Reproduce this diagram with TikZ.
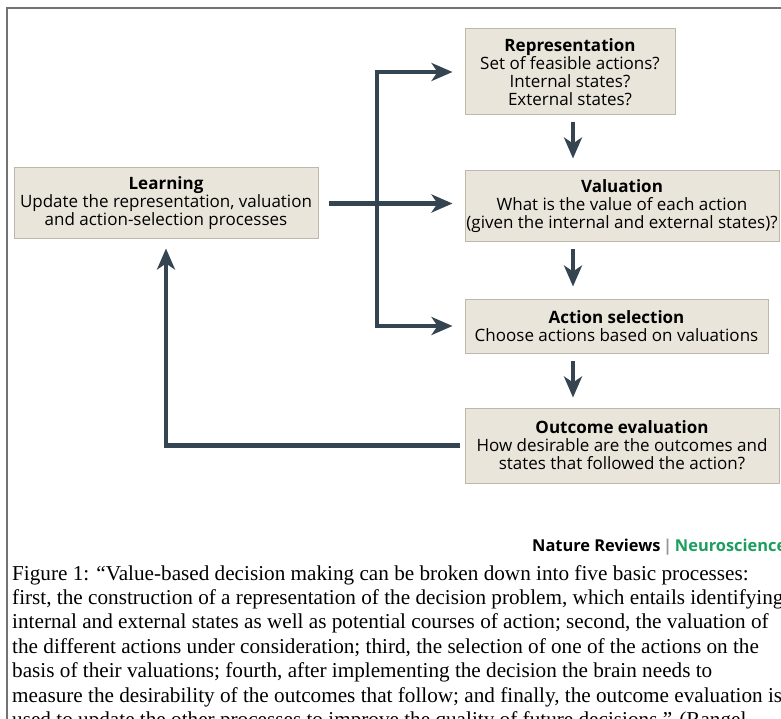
\documentclass[tikz,border=0pt]{standalone}
\usepackage{fontspec}
\setmainfont{Liberation Serif}
\setsansfont{Open Sans}
\usepackage{xcolor}
\usepackage{tikz}
\usetikzlibrary{arrows.meta, positioning, calc}
\definecolor{mydark}{RGB}{52,68,80}
\definecolor{mybeige}{RGB}{234,229,219}
\definecolor{myborder}{RGB}{190,184,172}
\definecolor{myframe}{RGB}{115,115,115}
\definecolor{mygreen}{RGB}{28,158,92}
\definecolor{mybar}{RGB}{150,150,150}
\tikzset{
  block/.style={rectangle, draw=myborder, fill=mybeige, align=center,
    font=\sffamily\fontsize{17}{18}\selectfont, inner sep=0pt, line width=1pt},
  arrow/.style={-{Stealth[length=21pt, width=18pt, inset=6pt]}, line width=4.5pt, color=mydark},
  line/.style={line width=4.5pt, color=mydark}
}

\begin{document}
\begin{tikzpicture}[x=1pt, y=-1pt]
  \useasboundingbox (0,0) rectangle (781,719);
  \clip (0,0) rectangle (781,719);
  \draw [myframe, line width=2pt] (7,740) -- (7,8) -- (790,8);

  \node [block, minimum width=304pt, minimum height=71pt] (learn) at (166,203.5)
    {\textbf{Learning}\\Update the representation, valuation\\and action-selection processes};
  \node [block, minimum width=210pt, minimum height=86pt] (repr) at (570,72)
    {\textbf{Representation}\\Set of feasible actions?\\Internal states?\\External states?};
  \node [block, minimum width=314pt, minimum height=71pt] (valu) at (622,206.5)
    {\textbf{Valuation}\\What is the value of each action\\(given the internal and external states)?};
  \node [block, minimum width=303pt, minimum height=54pt] (select) at (616.5,326)
    {\textbf{Action selection}\\Choose actions based on valuations};
  \node [block, minimum width=314pt, minimum height=75pt] (outcome) at (622,445.5)
    {\textbf{Outcome evaluation}\\How desirable are the outcomes and\\states that followed the action?};

  \coordinate (fork) at (377,203.5);
  \coordinate (col) at (573,0);

  \draw [arrow, shorten <=10pt, shorten >=12pt] (learn.east) -- (learn.east -| valu.west);
  \draw [arrow, shorten >=12pt] (fork) |- (repr.west);
  \draw [arrow, shorten >=12pt] (fork) |- (select.west);
  \draw [arrow, shorten <=7pt, shorten >=12pt] (col |- repr.south) -- (col |- valu.north);
  \draw [arrow, shorten <=7pt, shorten >=12pt] (col |- valu.south) -- (col |- select.north);
  \draw [arrow, shorten <=7pt, shorten >=10pt] (col |- select.south) -- (col |- outcome.north);
  \draw [arrow, shorten <=5pt, shorten >=9pt] (outcome.west) -| (learn.south);

  \node [anchor=west, inner sep=0pt, font=\sffamily\bfseries\fontsize{16.4}{18}\selectfont] (journal) at (532,547)
    {Nature Reviews\,\textcolor{mybar}{|}\,\textcolor{mygreen}{Neuroscience}};

  \node [anchor=north west, align=left, inner sep=0pt, font=\fontsize{21.2}{24.4}\selectfont] (caption) at (12,565)
    {Figure 1: “Value-based decision making can be broken down into five basic processes:\\
     first, the construction of a representation of the decision problem, which entails identifying\\
     internal and external states as well as potential courses of action; second, the valuation of\\
     the different actions under consideration; third, the selection of one of the actions on the\\
     basis of their valuations; fourth, after implementing the decision the brain needs to\\
     measure the desirability of the outcomes that follow; and finally, the outcome evaluation is\\
     used to update the other processes to improve the quality of future decisions.” (Rangel};
\end{tikzpicture}
\end{document}
